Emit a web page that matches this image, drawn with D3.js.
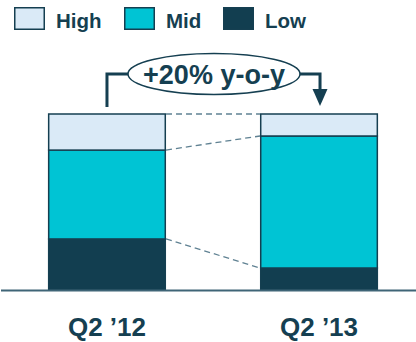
<!DOCTYPE html>
<html>
<head>
<meta charset="utf-8">
<script src="https://cdn.jsdelivr.net/npm/d3@7"></script>
<style>
  html, body { margin: 0; padding: 0; background: #fff; }
  svg { display: block; font-family: Arial, "Liberation Sans", sans-serif; }
</style>
</head>
<body>
<svg id="chart" width="416" height="342"></svg>
<script>
const categories = ["Q2 '12", "Q2 '13"];
const seriesNames = ["Low", "Mid", "High"];
const lowValues = [29, 12.5];
const midValues = [50.5, 75];
const highValues = [20.5, 12.5];
const legendLabels = ["High", "Mid", "Low"];
const annotationText = "+20% y-o-y";

const colors = { High: "#daeaf7", Mid: "#00c4d4", Low: "#123e50" };
const dark = "#153f51";

const svg = d3.select("#chart");

const rows = categories.map((c, i) => ({ cat: c, Low: lowValues[i], Mid: midValues[i], High: highValues[i] }));
const stack = d3.stack().keys(seriesNames)(rows);

const x = d3.scaleBand().domain(categories).range([0, 426]).paddingInner(0.443).paddingOuter(0.226);
const y = d3.scaleLinear().domain([0, 100]).range([290, 114]);

// dashed connectors
const connectorLevels = [];
stack.forEach(s => connectorLevels.push(s.map(d => d[1])));
const g = svg.append("g");
connectorLevels.forEach(lv => {
  g.append("line")
    .attr("x1", x(categories[0]) + x.bandwidth())
    .attr("x2", x(categories[1]))
    .attr("y1", y(lv[0]))
    .attr("y2", y(lv[1]))
    .attr("stroke", "#5f8192")
    .attr("stroke-width", 1.3)
    .attr("stroke-dasharray", "6,4");
});

// bars
stack.forEach(s => {
  g.selectAll(null).data(s).enter().append("rect")
    .attr("x", d => x(d.data.cat) + 0.75)
    .attr("width", x.bandwidth() - 1.5)
    .attr("y", d => y(d[1]))
    .attr("height", d => y(d[0]) - y(d[1]))
    .attr("fill", colors[s.key])
    .attr("stroke", dark)
    .attr("stroke-width", 1.5);
});

// baseline
svg.append("line").attr("x1", 1).attr("x2", 416).attr("y1", 290.5).attr("y2", 290.5)
  .attr("stroke", "#3f6577").attr("stroke-width", 2);

// x labels
svg.selectAll(".xl").data(categories).enter().append("text")
  .attr("x", d => x(d) + x.bandwidth() / 2)
  .attr("y", 336)
  .attr("text-anchor", "middle")
  .attr("font-size", 26).attr("font-weight", "bold").attr("fill", dark)
  .text(d => d.replace("'", "\u2019"));

// legend
const legendX = [14, 124, 223];
legendLabels.forEach((lbl, i) => {
  svg.append("rect").attr("x", legendX[i] + 0.75).attr("y", 7.75).attr("width", 29.5).attr("height", 21.5)
    .attr("fill", colors[lbl]).attr("stroke", dark).attr("stroke-width", 1.5);
  svg.append("text").attr("x", legendX[i] + 42).attr("y", 28)
    .attr("font-size", 20.5).attr("font-weight", "bold").attr("fill", dark).text(lbl);
});

// annotation bracket
const bx1 = x(categories[0]) + x.bandwidth() / 2;
const bx2 = x(categories[1]) + x.bandwidth() / 2 + 1;
const by = 74;
svg.append("path")
  .attr("d", `M${bx1},107 L${bx1},${by} L${bx2},${by} L${bx2},92`)
  .attr("fill", "none").attr("stroke", dark).attr("stroke-width", 3);
svg.append("path")
  .attr("d", `M${bx2 - 7.5},89 L${bx2 + 7.5},89 L${bx2},106 Z`)
  .attr("fill", dark);
svg.append("ellipse").attr("cx", 214).attr("cy", 74).attr("rx", 86).attr("ry", 20.5)
  .attr("fill", "#fff").attr("stroke", dark).attr("stroke-width", 1.5);
svg.append("text").attr("x", 214).attr("y", 83.5).attr("text-anchor", "middle")
  .attr("font-size", 27).attr("font-weight", "bold").attr("fill", dark).text(annotationText);
</script>
</body>
</html>
